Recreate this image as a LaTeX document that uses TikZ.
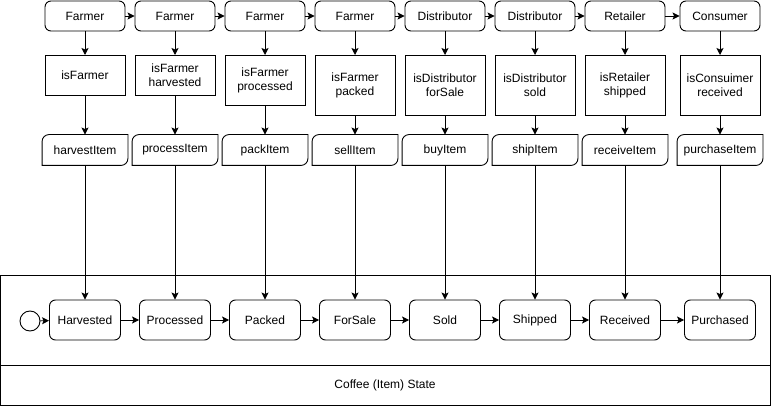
\documentclass[tikz,border=0pt]{standalone}
\usepackage{fontspec}
\setmainfont{Liberation Sans}
\usepackage{tikz}
\usetikzlibrary{arrows.meta}

\tikzset{
  actor/.style={draw,rounded corners=6pt,minimum width=80pt,minimum height=30pt,inner sep=0pt},
  check/.style={draw,anchor=north,minimum width=80pt,inner sep=0pt,align=center},
  fnbox/.style={minimum width=85pt,minimum height=30pt,inner sep=0pt},
  state/.style={draw,rounded corners=6pt,minimum width=71pt,minimum height=40pt,inner sep=0pt},
  flow/.style={-{Stealth[length=7pt,width=7pt,inset=1.5pt]}},
}

\begin{document}
\begin{tikzpicture}[x=1pt,y=-1pt,line width=0.9pt,font=\fontsize{12pt}{14pt}\selectfont]
\useasboundingbox (0,0) rectangle (771,406);

% item state container
\draw (0.5,275) rectangle (770,405);
\draw (0.5,365) -- (770,365);
\node (title) at (385,385) {Coffee (Item) State};

% actors, checks, functions and states, one column each
\foreach \i/\x/\who/\chk/\h/\fn/\st in {
  1/85/Farmer/isFarmer/40/harvestItem/Harvested,
  2/175/Farmer/isFarmer\\harvested/40/processItem/Processed,
  3/265/Farmer/isFarmer\\processed/50/packItem/Packed,
  4/355/Farmer/isFarmer\\packed/60/sellItem/ForSale,
  5/445/Distributor/isDistributor\\forSale/60/buyItem/Sold,
  6/535/Distributor/isDistributor\\sold/60/shipItem/Shipped,
  7/625/Retailer/isRetailer\\shipped/60/receiveItem/Received,
  8/720/Consumer/isConsuimer\\received/60/purchaseItem/Purchased}{
  \node[actor] (a\i) at (\x,16) {\who};
  \node[check,minimum height=\h pt] (c\i) at (\x,55) {\chk};
  \node[fnbox] (f\i) at (\x,150) {\fn};
  \draw (f\i.south west) -- ([yshift=-7pt]f\i.north west)
    arc[start angle=180,end angle=90,radius=7pt] -- (f\i.north east)
    -- ([yshift=7pt]f\i.south east) arc[start angle=0,end angle=-90,radius=7pt] -- cycle;
  \node[state] (s\i) at (\x,320) {\st};
  \draw[flow] (a\i) -- (c\i);
  \draw[flow] (c\i) -- (f\i);
  \draw[flow] (f\i) -- (s\i);
}

% initial state
\node[draw,circle,minimum size=20pt,inner sep=0pt] (init) at (30,321) {};
\draw[flow] (init) -- (s1);

\foreach \i [evaluate=\i as \j using int(\i+1)] in {1,...,7}{
  \draw[flow] (a\i) -- (a\j);
  \draw[flow] (s\i) -- (s\j);
}

\end{tikzpicture}
\end{document}
